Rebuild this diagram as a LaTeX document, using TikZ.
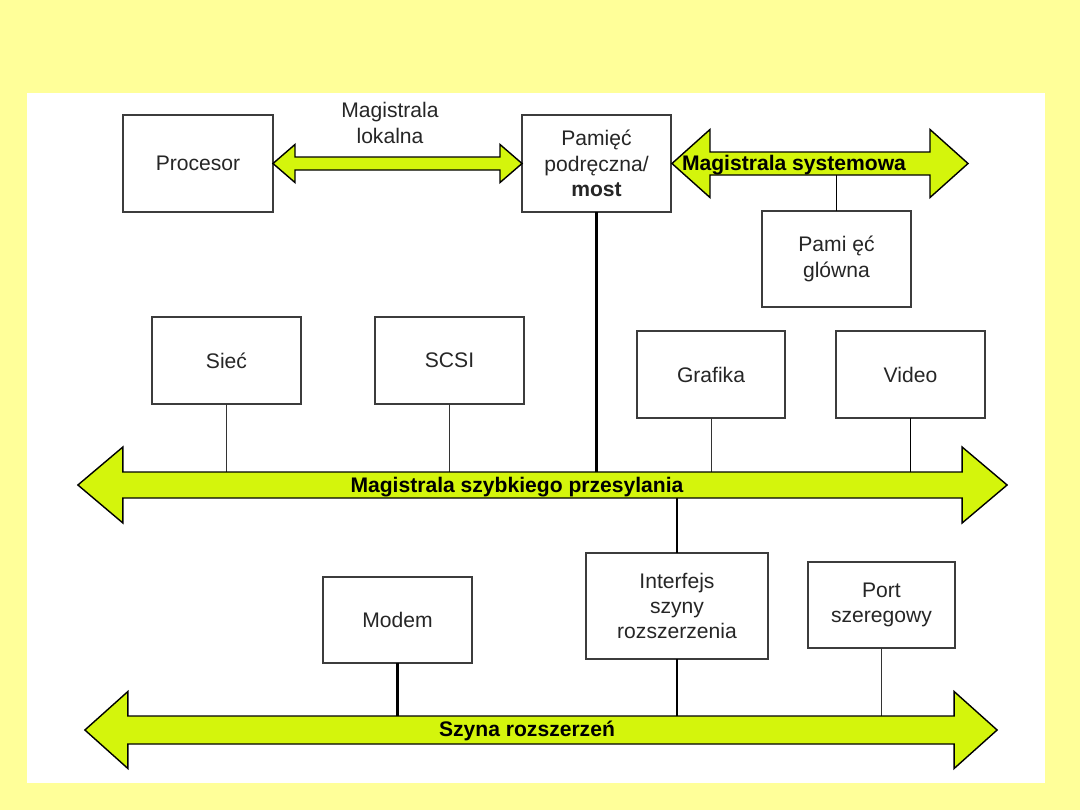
\documentclass[tikz,border=0pt]{standalone}
\usepackage{fontspec}
\setmainfont{Liberation Sans}
\usepackage{xcolor}
\definecolor{slideyellow}{RGB}{255,255,153}
\definecolor{buslime}{RGB}{212,245,12}
\definecolor{boxgrey}{RGB}{60,60,60}

% outline of a two-headed bus around a shaft node:
% #1 node, #2 half shaft, #3 head extend, #4 head length (all in px)
\newcommand{\busoutline}[4]{%
  \draw[busline] (#1.north west) -- ++(0,-#3) -- ++(-#4,{#2+#3}) -- ++(#4,{#2+#3}) -- ++(0,-#3)
    -- (#1.south east) -- ++(0,#3) -- ++(#4,{-(#2+#3)}) -- ++(-#4,{-(#2+#3)}) -- ++(0,#3) -- cycle;}

\begin{document}
\begin{tikzpicture}[x=0.025cm, y=-0.025cm,
    box/.style={rectangle, draw=boxgrey, line width=1pt, fill=white,
        font=\fontsize{15}{18}\selectfont, text=black!85, align=center,
        inner sep=2pt, outer sep=0pt},
    bus/.style={rectangle, inner sep=0pt, outer sep=0pt},
    busline/.style={draw=black, line width=1pt, fill=buslime, line join=miter},
    buslabel/.style={font=\fontsize{15}{18}\selectfont\bfseries, inner sep=0pt},
    thin link/.style={draw=black!80, line width=0.7pt},
    mid link/.style={draw=black, line width=1.4pt},
    thick link/.style={draw=black, line width=2.1pt}
]
    \useasboundingbox (0,0) rectangle (1080,810);
    \fill[slideyellow] (0,0) rectangle (1080,810);
    \fill[white] (27,93) rectangle (1045,783);

    % components
    \node[box, minimum width=3.75cm, minimum height=2.425cm] (cpu) at (198,163.5) {Procesor};
    \node[box, minimum width=3.725cm, minimum height=2.425cm] (cache) at (596.5,163.5) {Pamięć\\podręczna/\\\textbf{most}};
    \node[box, minimum width=3.725cm, minimum height=2.4cm] (mem) at (836.5,259) {Pami ęć\\glówna};
    \node[box, minimum width=3.725cm, minimum height=2.175cm] (net) at (226.5,360.5) {Sieć};
    \node[box, minimum width=3.725cm, minimum height=2.175cm] (scsi) at (449.5,360.5) {SCSI};
    \node[box, minimum width=3.7cm, minimum height=2.175cm] (gfx) at (711,374.5) {Grafika};
    \node[box, minimum width=3.725cm, minimum height=2.175cm] (video) at (910.5,374.5) {Video};
    \node[box, minimum width=3.725cm, minimum height=2.15cm] (modem) at (397.5,620) {Modem};
    \node[box, minimum width=4.55cm, minimum height=2.65cm] (iface) at (677,606) {Interfejs\\szyny\\rozszerzenia};
    \node[box, minimum width=3.675cm, minimum height=2.15cm] (port) at (881.5,605) {Port\\szeregowy};

    % bus shafts
    \node[bus, minimum width=5.125cm, minimum height=0.325cm] (local) at (397.5,163.5) {};
    \node[bus, minimum width=5.5cm, minimum height=0.575cm] (sys) at (820,163.5) {};
    \node[bus, minimum width=20.975cm, minimum height=0.65cm] (fast) at (542.5,485) {};
    \node[bus, minimum width=20.65cm, minimum height=0.7cm] (ext) at (541,730) {};

    % taps onto the buses
    \draw[thick link] (cache.south) -- (cache.south |- fast.center);
    \draw[mid link] (mem.north) -- (mem.north |- sys.center);
    \draw[thin link] (net.south) -- (net.south |- fast.center);
    \draw[thin link] (scsi.south) -- (scsi.south |- fast.center);
    \draw[thin link] (gfx.south) -- (gfx.south |- fast.center);
    \draw[mid link] (video.south) -- (video.south |- fast.center);
    \draw[thick link] (iface.north) -- (iface.north |- fast.center);
    \draw[thick link] (modem.south) -- (modem.south |- ext.center);
    \draw[thick link] (iface.south) -- (iface.south |- ext.center);
    \draw[thin link] (port.south) -- (port.south |- ext.center);

    \busoutline{local}{6.5}{12.5}{22}
    \busoutline{sys}{11.5}{22.5}{38}
    \busoutline{fast}{13}{25}{45}
    \busoutline{ext}{14}{24.5}{43}

    \node[box, draw=none, fill=none] (locallbl) at (390,123) {Magistrala\\lokalna};
    \node[buslabel] (syslbl) at (794,165) {Magistrala systemowa};
    \node[buslabel] (fastlbl) at (517,487) {Magistrala szybkiego przesylania};
    \node[buslabel] (extlbl) at (527,731) {Szyna rozszerzeń};
\end{tikzpicture}
\end{document}
